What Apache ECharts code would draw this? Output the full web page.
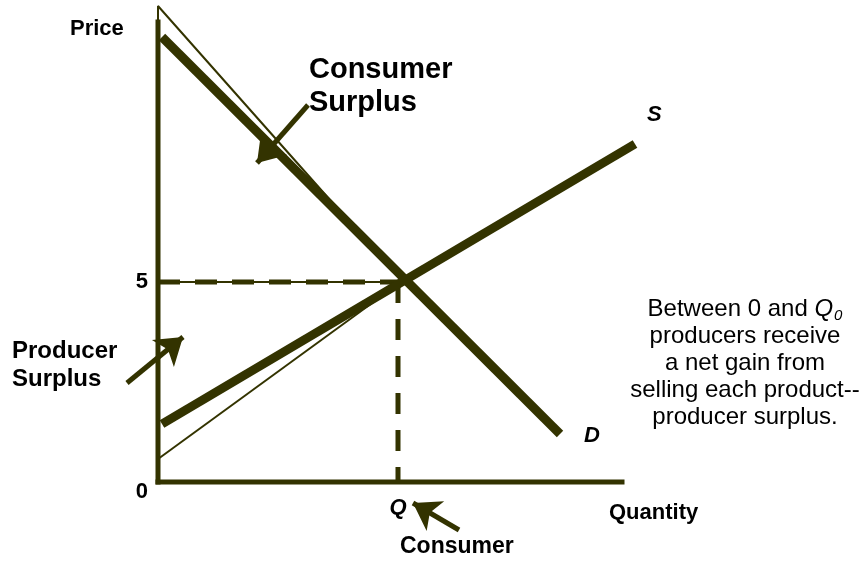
<!DOCTYPE html>
<html>
<head>
<meta charset="utf-8">
<script src="https://cdn.jsdelivr.net/npm/echarts@6/dist/echarts.min.js"></script>
<style>
  html, body { margin: 0; padding: 0; background: #fff; }
  #main { width: 862px; height: 561px; }
</style>
</head>
<body>
<div id="main"></div>
<script>
// data, in axis units (quantity 0 .. 12, price 0 .. 12)
var demand = [[0.1, 11.125], [10.05, 1.2]];
var supply = [[0.1, 1.45], [11.925, 8.45]];
var csEdge = [[0, 11.5], [0, 11.9], [6.075, 5.05]];   // thin consumer surplus outline
var psEdge = [[0, 0.575], [6.1, 5.02]];               // thin producer surplus outline
var priceGuide = [[0, 5], [6, 5]];
var qtyGuide = [[6, 5], [6, 0]];
var xAxisLine = [[0, 0], [11.6, 0]];
var yAxisLine = [[0, 0], [0, 11.5]];
var arrows = [
    [[3.75, 9.425], [2.475, 7.975]],   // consumer surplus
    [[-0.775, 2.475], [0.625, 3.625]], // producer surplus
    [[7.525, -1.2], [6.375, -0.525]]   // Q
];
var yTickValues = [0, 5];
var yTickLabels = ['0', '5'];
var xTickValues = [6];
var xTickLabels = ['Q'];

var ink = '#333300';
var font = '"Liberation Sans", Arial, sans-serif';

function lineSeries(data, width, dash, cap) {
    return {
        type: 'line',
        data: data,
        symbol: 'none',
        clip: false,
        silent: true,
        lineStyle: { color: ink, width: width, type: dash || 'solid', cap: cap || 'butt' }
    };
}

var myChart = echarts.init(document.getElementById('main'));
var option = {
    animation: false,
    backgroundColor: '#fff',
    grid: { left: 158, top: 2, width: 480, height: 480 },
    xAxis: {
        type: 'value', min: 0, max: 12, interval: 6,
        splitLine: { show: false }, axisTick: { show: false }, axisLine: { show: false },
        axisLabel: {
            margin: 15, showMaxLabel: false,
            color: '#000', fontFamily: font, fontSize: 22, fontWeight: 'bold', fontStyle: 'italic',
            formatter: function (v) {
                var i = xTickValues.indexOf(v);
                return i < 0 ? '' : xTickLabels[i];
            }
        }
    },
    yAxis: {
        type: 'value', min: 0, max: 12, interval: 5,
        splitLine: { show: false }, axisTick: { show: false }, axisLine: { show: false },
        axisLabel: {
            margin: 10, showMaxLabel: false,
            color: '#000', fontFamily: font, fontSize: 22, fontWeight: 'bold',
            formatter: function (v) {
                var i = yTickValues.indexOf(v);
                if (i < 0) return '';
                return v === 0 ? '{z|' + yTickLabels[i] + '}' : yTickLabels[i];
            },
            rich: { z: { fontFamily: font, fontSize: 22, fontWeight: 'bold', color: '#000', padding: [20, 0, 0, 0] } }
        }
    },
    series: [
        lineSeries(csEdge, 2),
        lineSeries(psEdge, 2),
        lineSeries(priceGuide, 2),
        lineSeries(priceGuide, 5, [22, 15]),
        lineSeries(qtyGuide, 5, [21, 16]),
        lineSeries(xAxisLine, 5, null, 'square'),
        lineSeries(yAxisLine, 5, null, 'square'),
        lineSeries(demand, 9),
        lineSeries(supply, 9),
        {
            type: 'lines',
            coordinateSystem: 'cartesian2d',
            clip: false,
            silent: true,
            symbol: ['none', 'arrow'],
            symbolSize: 26,
            lineStyle: { color: ink, width: 5, opacity: 1, curveness: 0 },
            data: arrows.map(function (c) { return { coords: c }; })
        }
    ],
    graphic: [
        { type: 'text', left: 70, top: 18, style: { text: 'Price', font: 'bold 22px ' + font, fill: '#000' } },
        { type: 'text', left: 309, top: 53, style: { text: 'Consumer\nSurplus', font: 'bold 29px ' + font, lineHeight: 33, fill: '#000' } },
        { type: 'text', left: 647, top: 104, style: { text: 'S', font: 'italic bold 22px ' + font, fill: '#000' } },
        { type: 'text', left: 584, top: 425, style: { text: 'D', font: 'italic bold 22px ' + font, fill: '#000' } },
        { type: 'text', left: 12, top: 337, style: { text: 'Producer\nSurplus', font: 'bold 24px ' + font, lineHeight: 28, fill: '#000' } },
        { type: 'text', left: 609, top: 502, style: { text: 'Quantity', font: 'bold 22px ' + font, fill: '#000' } },
        { type: 'text', left: 400, top: 535, style: { text: 'Consumer', font: 'bold 23px ' + font, fill: '#000' } },
        {
            type: 'text', x: 745, y: 296,
            style: {
                text: '{n|Between 0 and }{q|Q}{s|0}\n{n|producers receive}\n{n|a net gain from}\n{n|selling each product--}\n{n|producer surplus.}',
                align: 'center',
                verticalAlign: 'top',
                lineHeight: 27,
                rich: {
                    n: { fontFamily: font, fontSize: 24, fill: '#000', lineHeight: 27 },
                    q: { fontFamily: font, fontSize: 24, fontStyle: 'italic', fill: '#000', lineHeight: 27 },
                    s: { fontFamily: font, fontSize: 15, fontStyle: 'italic', fill: '#000', lineHeight: 27, verticalAlign: 'bottom', padding: [0, 0, 0, 1] }
                }
            }
        }
    ]
};
myChart.setOption(option);
</script>
</body>
</html>
